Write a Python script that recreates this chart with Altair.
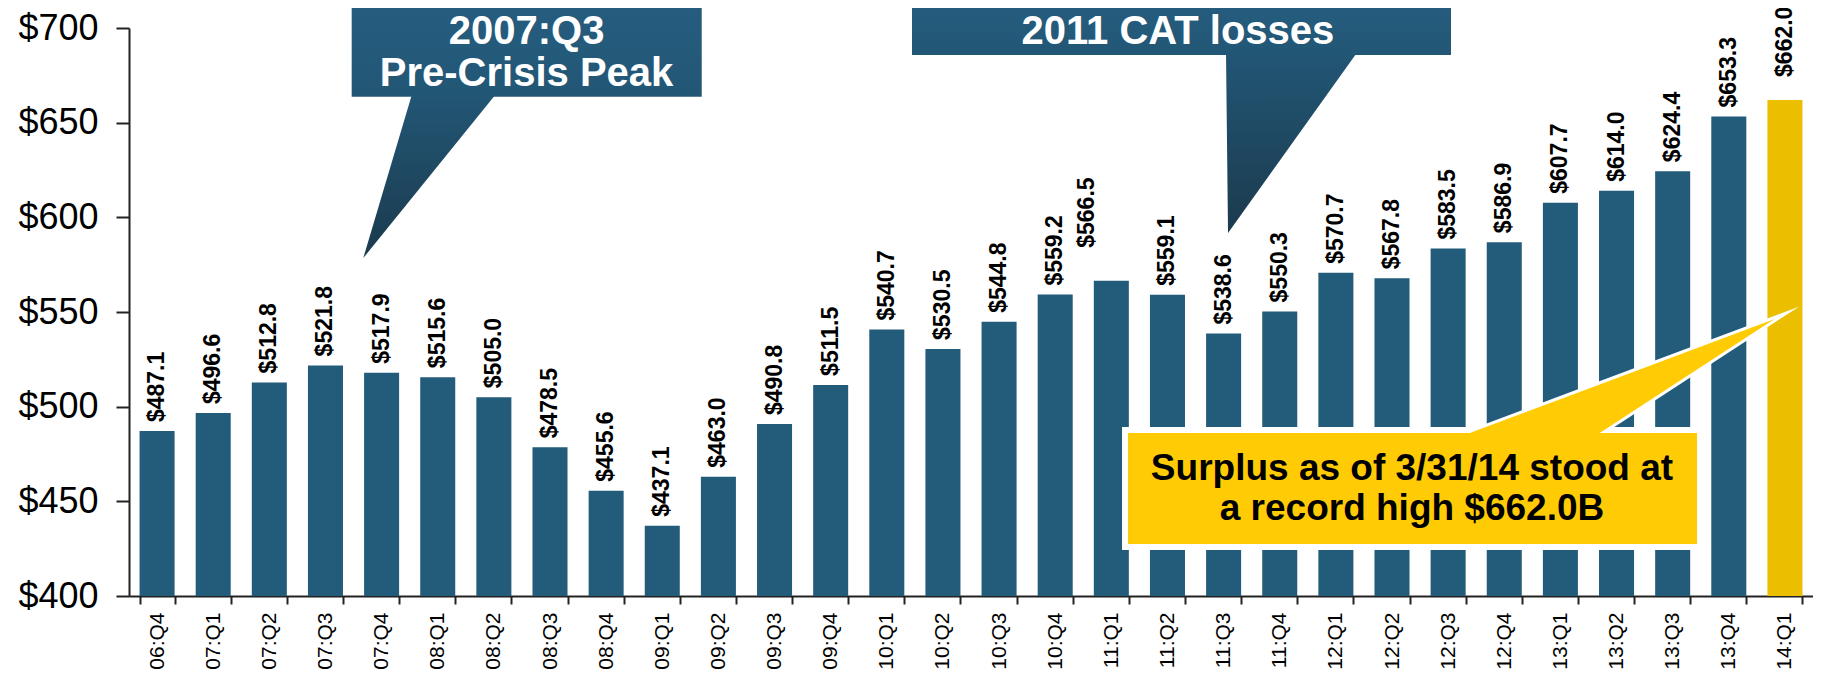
import altair as alt
import pandas as pd

FONT = "Liberation Sans, Arial, sans-serif"

# ---- data -------------------------------------------------------------
quarters = ["06:Q4", "07:Q1", "07:Q2", "07:Q3", "07:Q4", "08:Q1", "08:Q2", "08:Q3",
            "08:Q4", "09:Q1", "09:Q2", "09:Q3", "09:Q4", "10:Q1", "10:Q2", "10:Q3",
            "10:Q4", "11:Q1", "11:Q2", "11:Q3", "11:Q4", "12:Q1", "12:Q2", "12:Q3",
            "12:Q4", "13:Q1", "13:Q2", "13:Q3", "13:Q4", "14:Q1"]
surplus = [487.1, 496.6, 512.8, 521.8, 517.9, 515.6, 505.0, 478.5,
           455.6, 437.1, 463.0, 490.8, 511.5, 540.7, 530.5, 544.8,
           559.2, 566.5, 559.1, 538.6, 550.3, 570.7, 567.8, 583.5,
           586.9, 607.7, 614.0, 624.4, 653.3, 662.0]
y_ticks = [400, 450, 500, 550, 600, 650, 700]

# callout texts
callout_titles = ["2007:Q3", "Pre-Crisis Peak", "2011 CAT losses"]
callout_note = ["Surplus as of 3/31/14 stood at", "a record high $662.0B"]

df = pd.DataFrame({"quarter": quarters, "surplus": surplus})

BLUE = "#235b7a"
GOLD = "#ebbf00"
YELLOW = "#ffcb05"

yscale = alt.Scale(domain=[400, 700], zero=False, nice=False)
xs = alt.Scale(domain=[0, 30], nice=False, zero=False)

x_axis = alt.Axis(title=None, labelAngle=270, labelFontSize=21, labelFont=FONT,
                  labelColor="black", tickBand="extent", tickSize=8, tickWidth=2,
                  tickColor="#222", domainColor="#222", domainWidth=2,
                  labelPadding=8, labelOverlap=False, labelLimit=200)
y_axis = alt.Axis(title=None, values=y_ticks, labelExpr="'$' + datum.value",
                  labelFontSize=36, labelFont=FONT, labelColor="black",
                  tickSize=13, tickWidth=2, tickColor="#222", domainColor="#222",
                  domainWidth=2, labelPadding=18, grid=False)
x_band = alt.Scale(paddingInner=0.376, paddingOuter=0.188)

# ---- bars + value labels ----------------------------------------------
base = alt.Chart(df).transform_calculate(
    label="'$' + format(datum.surplus, '.1f')"
)

bars = base.mark_bar().encode(
    x=alt.X("quarter:N", sort=quarters, scale=x_band, axis=x_axis),
    y=alt.Y("surplus:Q", scale=yscale, axis=y_axis),
    y2=alt.datum(400),
    color=alt.condition(alt.datum.quarter == "14:Q1", alt.value(GOLD), alt.value(BLUE)),
)

lab_style = dict(angle=270, align="left", baseline="middle", fontSize=23,
                 fontWeight="bold", font=FONT, color="black")
lab_enc = dict(x=alt.X("quarter:N", sort=quarters, scale=x_band, axis=x_axis),
               y=alt.Y("surplus:Q", scale=yscale, axis=y_axis),
               text="label:N")

labels = base.mark_text(dx=9, **lab_style).encode(**lab_enc).transform_filter(
    "datum.quarter != '11:Q1' && datum.quarter != '14:Q1'")
label_q1 = base.mark_text(dx=33, dy=-24, **lab_style).encode(**lab_enc).transform_filter(
    "datum.quarter == '11:Q1'")
label_last = base.mark_text(dx=23, **lab_style).encode(**lab_enc).transform_filter(
    "datum.quarter == '14:Q1'")

bar_layer = alt.layer(bars, labels, label_q1, label_last)

# ---- callouts (positions in category-index units / dollars) -------------
def grad(c1, c2):
    return alt.Gradient(gradient="linear",
                        stops=[alt.GradientStop(color=c1, offset=0),
                               alt.GradientStop(color=c2, offset=1)],
                        x1=0, x2=0, y1=0, y2=1)

box_df = pd.DataFrame({"x": [3.967, 13.949], "x2": [10.203, 23.551],
                       "y": [663.71, 685.74], "y2": [718, 718]})
boxes = alt.Chart(box_df).mark_rect(color=grad("#265e80", "#225675")).encode(
    x=alt.X("x:Q", scale=xs, axis=None), x2="x2:Q",
    y=alt.Y("y:Q", scale=yscale), y2="y2:Q")

ptr1 = pd.DataFrame({"x": [4.174, 5.036, 6.520], "y": [578.52, 664.45, 664.45],
                     "y2": [578.52, 610.09, 664.45]})
ptr2 = pd.DataFrame({"x": [19.543, 19.579, 21.859], "y": [686.27, 686.27, 686.27],
                     "y2": [686.27, 591.72, 686.27]})


def pointer(d, **kw):
    return alt.Chart(d).mark_area(**kw).encode(
        x=alt.X("x:Q", scale=xs, axis=None),
        y=alt.Y("y:Q", scale=yscale), y2="y2:Q")


p1 = pointer(ptr1, color=grad("#225675", "#1b3a4d"))
p2 = pointer(ptr2, color=grad("#225675", "#1b3a4d"))

title_df = pd.DataFrame({"x": [7.082, 7.082, 18.687], "y": [691.55, 669.37, 691.55],
                         "t": callout_titles})
titles = alt.Chart(title_df).mark_text(font=FONT, fontSize=40, fontWeight="bold",
                                       color="white", align="center",
                                       baseline="alphabetic").encode(
    x=alt.X("x:Q", scale=xs, axis=None), y=alt.Y("y:Q", scale=yscale), text="t:N")

# yellow callout
ptr3 = pd.DataFrame({"x": [23.742, 26.117, 29.315], "y": [484.50, 510.84, 546.30],
                     "y2": [484.50, 484.50, 546.30]})
p3_stroke = pointer(ptr3, color=YELLOW, stroke="white", strokeWidth=6,
                    strokeJoin="miter", strokeMiterLimit=15)
ybox_df = pd.DataFrame({"x": [17.744], "x2": [27.988], "y": [425.88], "y2": [487.67]})
ybox = alt.Chart(ybox_df).mark_rect(color=YELLOW, stroke="white", strokeWidth=6).encode(
    x=alt.X("x:Q", scale=xs, axis=None), x2="x2:Q",
    y=alt.Y("y:Q", scale=yscale), y2="y2:Q")
p3_fill = pointer(ptr3, color=YELLOW)
note_df = pd.DataFrame({"x": [22.856, 22.856], "y": [461.27, 440.14], "t": callout_note})
note = alt.Chart(note_df).mark_text(font=FONT, fontSize=37, fontWeight="bold",
                                    color="black", align="center",
                                    baseline="alphabetic").encode(
    x=alt.X("x:Q", scale=xs, axis=None), y=alt.Y("y:Q", scale=yscale), text="t:N")

annot = alt.layer(boxes, p1, p2, titles, p3_stroke, ybox, p3_fill, note)

chart = alt.layer(bar_layer, annot).resolve_scale(x="independent").properties(
    width=1684, height=568,
    padding={"left": 121, "top": 20, "right": 0, "bottom": 76},
    autosize=alt.AutoSizeParams(type="none"),
    background="white",
).configure_view(stroke=None)

chart.save("out.html", embed_options={"renderer": "svg", "actions": False})
